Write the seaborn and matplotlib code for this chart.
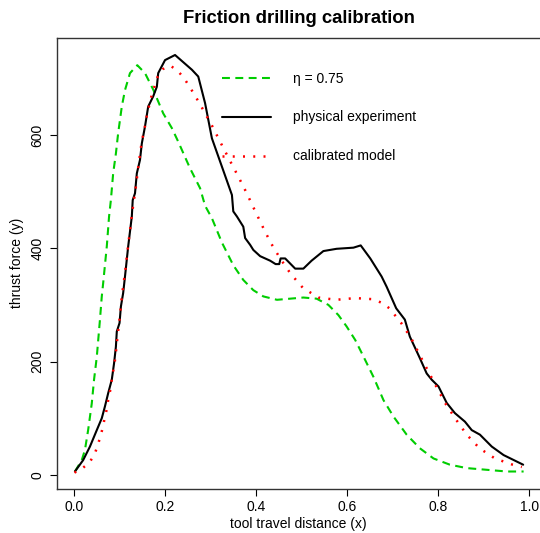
import matplotlib
matplotlib.use("Agg")
import matplotlib.pyplot as plt
import seaborn as sns
from matplotlib.lines import Line2D

# tool travel distance (x) / thrust force (y)
eta_x = [0.002, 0.017, 0.024, 0.031, 0.039, 0.044, 0.050, 0.057, 0.061, 0.064,
         0.072, 0.077, 0.081, 0.086, 0.092, 0.097, 0.105, 0.112, 0.123, 0.139,
         0.156, 0.174, 0.196, 0.215, 0.229, 0.255, 0.277, 0.288, 0.303, 0.325,
         0.350, 0.372, 0.394, 0.416, 0.446, 0.475, 0.504, 0.533, 0.559, 0.581,
         0.599, 0.618, 0.636, 0.658, 0.680, 0.702, 0.731, 0.760, 0.790, 0.826,
         0.863, 0.907, 0.951, 0.988]
eta_y = [6, 26, 44, 79, 126, 168, 208, 274, 315, 338,
         403, 456, 485, 532, 567, 603, 650, 679, 709, 723,
         709, 680, 638, 612, 588, 541, 506, 475, 453, 410,
         370, 344, 326, 315, 309, 311, 313, 311, 300, 282,
         262, 238, 209, 173, 132, 103, 71, 47, 29, 18,
         12, 9, 6, 6]

exp_x = [0.002, 0.020, 0.035, 0.050, 0.061, 0.068, 0.075, 0.083, 0.088, 0.092,
         0.094, 0.100, 0.103, 0.108, 0.112, 0.119, 0.127, 0.129, 0.134, 0.138,
         0.145, 0.149, 0.156, 0.163, 0.174, 0.182, 0.185, 0.200, 0.222, 0.259,
         0.273, 0.288, 0.303, 0.347, 0.350, 0.358, 0.372, 0.376, 0.387, 0.394,
         0.409, 0.431, 0.443, 0.451, 0.454, 0.464, 0.486, 0.504, 0.522, 0.548,
         0.577, 0.614, 0.630, 0.651, 0.676, 0.687, 0.708, 0.727, 0.738, 0.760,
         0.775, 0.786, 0.801, 0.819, 0.837, 0.859, 0.874, 0.892, 0.918, 0.944,
         0.987]
exp_y = [6, 26, 50, 79, 100, 121, 144, 168, 197, 226,
         253, 268, 297, 321, 350, 403, 456, 485, 497, 532,
         556, 585, 615, 650, 668, 685, 709, 732, 741, 715,
         703, 656, 594, 494, 465, 456, 438, 418, 406, 397,
         386, 378, 372, 372, 382, 382, 364, 364, 378, 395,
         399, 401, 405, 382, 350, 332, 294, 274, 244, 206,
         179, 168, 156, 127, 109, 94, 79, 71, 50, 35,
         18]

cal_x = [0.001, 0.019, 0.034, 0.045, 0.052, 0.058, 0.063, 0.067, 0.072, 0.075,
         0.079, 0.082, 0.085, 0.089, 0.092, 0.096, 0.101, 0.105, 0.113, 0.120,
         0.125, 0.130, 0.136, 0.141, 0.149, 0.154, 0.161, 0.171, 0.184, 0.195,
         0.212, 0.228, 0.242, 0.264, 0.284, 0.304, 0.323, 0.341, 0.360, 0.379,
         0.396, 0.414, 0.432, 0.453, 0.476, 0.503, 0.537, 0.576, 0.618, 0.658,
         0.678, 0.693, 0.719, 0.741, 0.760, 0.779, 0.798, 0.817, 0.840, 0.863,
         0.891, 0.925, 0.964, 0.984]
cal_y = [4, 12, 22, 36, 52, 68, 83, 99, 116, 132,
         147, 163, 179, 196, 216, 247, 281, 314, 363, 412,
         444, 476, 509, 542, 589, 607, 638, 671, 703, 716,
         722, 713, 700, 672, 644, 615, 585, 557, 528, 498,
         469, 439, 410, 382, 355, 330, 313, 309, 312, 310,
         303, 294, 268, 241, 211, 182, 153, 125, 97, 71,
         47, 29, 18, 14]

labels = ["\u03b7 = 0.75", "physical experiment", "calibrated model"]
x_ticks = [0.0, 0.2, 0.4, 0.6, 0.8, 1.0]
y_ticks = [0, 200, 400, 600]

sns.set_style("ticks")
plt.rcParams["font.family"] = ["Liberation Sans", "DejaVu Sans"]
plt.rcParams.update({"text.color": "black", "axes.labelcolor": "black",
                     "xtick.color": "black", "ytick.color": "black"})

W, H = 540, 533
fig = plt.figure(figsize=(W / 100, H / 100), dpi=100)
left, right, top, bottom = 57, 540, 38, 488.5
ax = fig.add_axes([left / W, (H - bottom) / H, (right - left) / W, (bottom - top) / H])

green = "#00CD00"
sns.lineplot(x=eta_x, y=eta_y, ax=ax, color=green, lw=1.5, estimator=None,
             linestyle=(0, (3.8, 2.6)))
sns.lineplot(x=exp_x, y=exp_y, ax=ax, color="black", lw=1.5, estimator=None)
sns.lineplot(x=cal_x, y=cal_y, ax=ax, color="red", lw=1.8, estimator=None,
             linestyle=(0, (0.8, 3.3)))

ax.set_xlim(-0.0374, 1.024)
ax.set_ylim(-24, 771)
ax.set_xticks(x_ticks)
ax.set_xticklabels([f"{t:.1f}" for t in x_ticks])
ax.set_yticks(y_ticks)
ax.set_yticklabels([str(t) for t in y_ticks], rotation=90, va="center")
ax.tick_params(direction="out", length=5, width=0.8, color="black",
               labelsize=10, pad=3)
ax.tick_params(axis="y", pad=4)
for side in ["left", "top", "bottom"]:
    ax.spines[side].set_color("#333333")
    ax.spines[side].set_linewidth(1.0)
ax.spines["right"].set_visible(False)

ax.set_xlabel("tool travel distance (x)", fontsize=10)
ax.set_ylabel("thrust force (y)", fontsize=10)
ax.xaxis.set_label_coords(0.5, -0.063)
ax.yaxis.set_label_coords(-0.083, 0.5)
ax.yaxis.label.set_va("center")
ax.set_title("Friction drilling calibration", fontsize=13.3, fontweight="bold", pad=11)

handles = [
    Line2D([], [], color=green, lw=1.5, linestyle=(0, (3.8, 2.6))),
    Line2D([], [], color="black", lw=1.5),
    Line2D([], [], color="red", lw=1.8, linestyle=(0, (0.8, 3.3))),
]
ax.legend(handles, labels, frameon=False, loc="upper left",
          bbox_to_anchor=((222 - left) / (right - left), (bottom - 71.5) / (bottom - top)),
          bbox_transform=ax.transAxes, borderpad=0, borderaxespad=0,
          handlelength=3.5, handletextpad=1.6, labelspacing=1.8, fontsize=10)

fig.savefig("out.png", dpi=100)
